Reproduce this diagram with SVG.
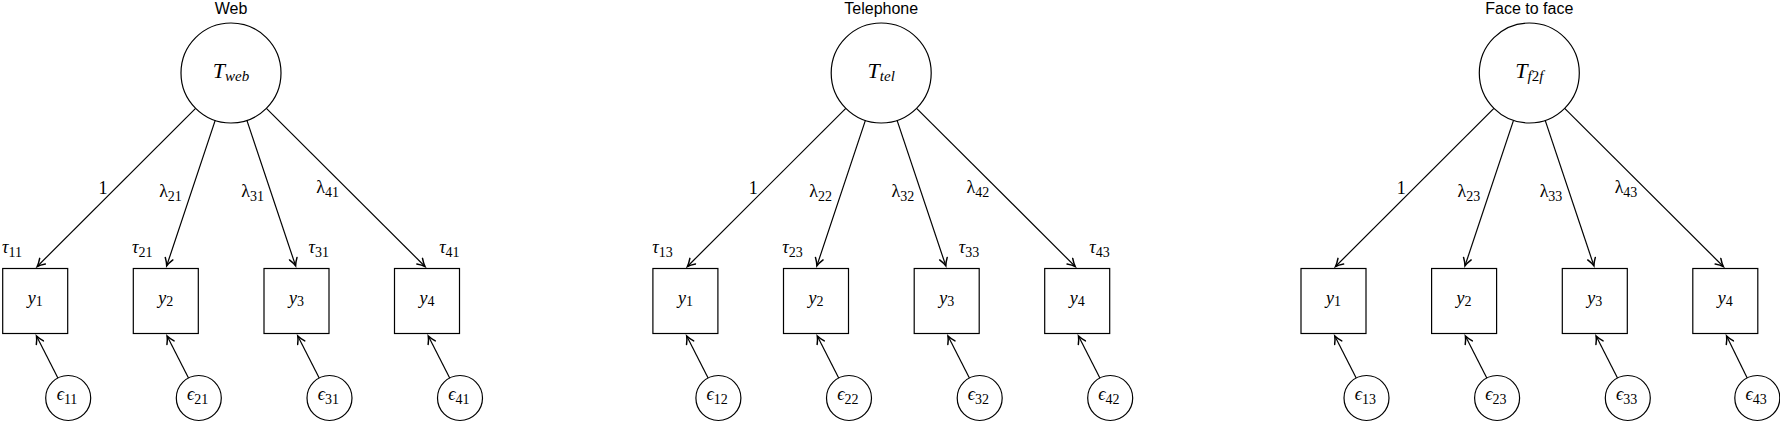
<svg xmlns="http://www.w3.org/2000/svg" width="1780" height="422" viewBox="0 0 1780 422">
<style>
.title{font-family:"Liberation Sans","DejaVu Sans",sans-serif;font-size:16px;text-anchor:middle;fill:#000}
.m{font-family:"Liberation Serif","DejaVu Serif",serif;font-style:italic;font-size:18px;fill:#000}
.c{text-anchor:middle}
.e{text-anchor:end}
.big{font-size:22px}
.n{font-style:normal;font-size:14px}
.ni{font-style:italic;font-size:15px}
.up{font-style:normal}
.node{fill:#fff;stroke:#000;stroke-width:1.2}
.conn line{stroke:#000;stroke-width:1.2;marker-end:url(#arr)}
</style>
<defs>
<marker id="arr" viewBox="-9 -5 11 10" refX="0" refY="0" markerWidth="11" markerHeight="10" orient="auto" markerUnits="userSpaceOnUse">
<path d="M-7.5,-4 Q-3,-1 0,0 Q-3,1 -7.5,4" fill="none" stroke="#000" stroke-width="1.5" stroke-linecap="round"/>
</marker>
</defs>
<rect width="1780" height="422" fill="#fff"/>

<!-- Panel 1: Web -->
<g id="panel-web">
<text class="title" x="231" y="14">Web</text>
<g id="T-web"><circle class="node" cx="231" cy="73" r="50"/><text class="m c big" x="231" y="77.5">T<tspan class="ni" dy="3">web</tspan></text></g>
<g id="y1-web"><rect class="node" x="2.7" y="268.5" width="65" height="65"/><text class="m c" x="35.2" y="304">y<tspan class="n" dy="1.5">1</tspan></text><text class="m" x="2" y="253">τ<tspan class="n" dy="3.5">11</tspan></text></g>
<g id="y2-web"><rect class="node" x="133.3" y="268.5" width="65" height="65"/><text class="m c" x="165.8" y="304">y<tspan class="n" dy="1.5">2</tspan></text><text class="m" x="132" y="253">τ<tspan class="n" dy="3.5">21</tspan></text></g>
<g id="y3-web"><rect class="node" x="264" y="268.5" width="65" height="65"/><text class="m c" x="296.5" y="304">y<tspan class="n" dy="1.5">3</tspan></text><text class="m e" x="329" y="253">τ<tspan class="n" dy="3.5">31</tspan></text></g>
<g id="y4-web"><rect class="node" x="394.5" y="268.5" width="65" height="65"/><text class="m c" x="427" y="304">y<tspan class="n" dy="1.5">4</tspan></text><text class="m e" x="459.6" y="253">τ<tspan class="n" dy="3.5">41</tspan></text></g>
<g id="e11"><circle class="node" cx="68.2" cy="398" r="22.5"/><text class="m c" x="67" y="400">ϵ<tspan class="n" dy="3.5">11</tspan></text></g>
<g id="e21"><circle class="node" cx="198.8" cy="398" r="22.5"/><text class="m c" x="197.6" y="400">ϵ<tspan class="n" dy="3.5">21</tspan></text></g>
<g id="e31"><circle class="node" cx="329.5" cy="398" r="22.5"/><text class="m c" x="328.3" y="400">ϵ<tspan class="n" dy="3.5">31</tspan></text></g>
<g id="e41"><circle class="node" cx="460" cy="398" r="22.5"/><text class="m c" x="458.8" y="400">ϵ<tspan class="n" dy="3.5">41</tspan></text></g>
<g id="connectors-web" class="conn">
<line x1="195.6" y1="108.3" x2="37.2" y2="266.5"/>
<line x1="215.2" y1="120.4" x2="166.7" y2="265.8"/>
<line x1="246.9" y1="120.4" x2="295.6" y2="265.8"/>
<line x1="266.4" y1="108.3" x2="425" y2="266.5"/>
<line x1="57.9" y1="378" x2="36.5" y2="336"/>
<line x1="188.5" y1="378" x2="167.1" y2="336"/>
<line x1="319.2" y1="378" x2="297.8" y2="336"/>
<line x1="449.7" y1="378" x2="428.3" y2="336"/>
<text class="m c up" x="103" y="193.5">1</text>
<text class="m c up" x="170.5" y="197">λ<tspan class="n" dy="4">21</tspan></text>
<text class="m c up" x="252.7" y="197">λ<tspan class="n" dy="4">31</tspan></text>
<text class="m c up" x="327.7" y="192.5">λ<tspan class="n" dy="4">41</tspan></text>
</g>
</g>

<!-- Panel 2: Telephone -->
<g id="panel-tel" transform="translate(650.2,0)">
<text class="title" x="231" y="14">Telephone</text>
<g id="T-tel"><circle class="node" cx="231" cy="73" r="50"/><text class="m c big" x="231" y="77.5">T<tspan class="ni" dy="3">tel</tspan></text></g>
<g id="y1-tel"><rect class="node" x="2.7" y="268.5" width="65" height="65"/><text class="m c" x="35.2" y="304">y<tspan class="n" dy="1.5">1</tspan></text><text class="m" x="2" y="253">τ<tspan class="n" dy="3.5">13</tspan></text></g>
<g id="y2-tel"><rect class="node" x="133.3" y="268.5" width="65" height="65"/><text class="m c" x="165.8" y="304">y<tspan class="n" dy="1.5">2</tspan></text><text class="m" x="132" y="253">τ<tspan class="n" dy="3.5">23</tspan></text></g>
<g id="y3-tel"><rect class="node" x="264" y="268.5" width="65" height="65"/><text class="m c" x="296.5" y="304">y<tspan class="n" dy="1.5">3</tspan></text><text class="m e" x="329" y="253">τ<tspan class="n" dy="3.5">33</tspan></text></g>
<g id="y4-tel"><rect class="node" x="394.5" y="268.5" width="65" height="65"/><text class="m c" x="427" y="304">y<tspan class="n" dy="1.5">4</tspan></text><text class="m e" x="459.6" y="253">τ<tspan class="n" dy="3.5">43</tspan></text></g>
<g id="e12"><circle class="node" cx="68.2" cy="398" r="22.5"/><text class="m c" x="67" y="400">ϵ<tspan class="n" dy="3.5">12</tspan></text></g>
<g id="e22"><circle class="node" cx="198.8" cy="398" r="22.5"/><text class="m c" x="197.6" y="400">ϵ<tspan class="n" dy="3.5">22</tspan></text></g>
<g id="e32"><circle class="node" cx="329.5" cy="398" r="22.5"/><text class="m c" x="328.3" y="400">ϵ<tspan class="n" dy="3.5">32</tspan></text></g>
<g id="e42"><circle class="node" cx="460" cy="398" r="22.5"/><text class="m c" x="458.8" y="400">ϵ<tspan class="n" dy="3.5">42</tspan></text></g>
<g id="connectors-tel" class="conn">
<line x1="195.6" y1="108.3" x2="37.2" y2="266.5"/>
<line x1="215.2" y1="120.4" x2="166.7" y2="265.8"/>
<line x1="246.9" y1="120.4" x2="295.6" y2="265.8"/>
<line x1="266.4" y1="108.3" x2="425" y2="266.5"/>
<line x1="57.9" y1="378" x2="36.5" y2="336"/>
<line x1="188.5" y1="378" x2="167.1" y2="336"/>
<line x1="319.2" y1="378" x2="297.8" y2="336"/>
<line x1="449.7" y1="378" x2="428.3" y2="336"/>
<text class="m c up" x="103" y="193.5">1</text>
<text class="m c up" x="170.5" y="197">λ<tspan class="n" dy="4">22</tspan></text>
<text class="m c up" x="252.7" y="197">λ<tspan class="n" dy="4">32</tspan></text>
<text class="m c up" x="327.7" y="192.5">λ<tspan class="n" dy="4">42</tspan></text>
</g>
</g>

<!-- Panel 3: Face to face -->
<g id="panel-f2f" transform="translate(1298.3,0)">
<text class="title" x="231" y="14">Face to face</text>
<g id="T-f2f"><circle class="node" cx="231" cy="73" r="50"/><text class="m c big" x="231" y="77.5">T<tspan class="ni" dy="3">f</tspan><tspan class="ni up">2</tspan><tspan class="ni">f</tspan></text></g>
<g id="y1-f2f"><rect class="node" x="2.7" y="268.5" width="65" height="65"/><text class="m c" x="35.2" y="304">y<tspan class="n" dy="1.5">1</tspan></text></g>
<g id="y2-f2f"><rect class="node" x="133.3" y="268.5" width="65" height="65"/><text class="m c" x="165.8" y="304">y<tspan class="n" dy="1.5">2</tspan></text></g>
<g id="y3-f2f"><rect class="node" x="264" y="268.5" width="65" height="65"/><text class="m c" x="296.5" y="304">y<tspan class="n" dy="1.5">3</tspan></text></g>
<g id="y4-f2f"><rect class="node" x="394.5" y="268.5" width="65" height="65"/><text class="m c" x="427" y="304">y<tspan class="n" dy="1.5">4</tspan></text></g>
<g id="e13"><circle class="node" cx="68.2" cy="398" r="22.5"/><text class="m c" x="67" y="400">ϵ<tspan class="n" dy="3.5">13</tspan></text></g>
<g id="e23"><circle class="node" cx="198.8" cy="398" r="22.5"/><text class="m c" x="197.6" y="400">ϵ<tspan class="n" dy="3.5">23</tspan></text></g>
<g id="e33"><circle class="node" cx="329.5" cy="398" r="22.5"/><text class="m c" x="328.3" y="400">ϵ<tspan class="n" dy="3.5">33</tspan></text></g>
<g id="e43"><circle class="node" cx="459" cy="398" r="22.5"/><text class="m c" x="457.8" y="400">ϵ<tspan class="n" dy="3.5">43</tspan></text></g>
<g id="connectors-f2f" class="conn">
<line x1="195.6" y1="108.3" x2="37.2" y2="266.5"/>
<line x1="215.2" y1="120.4" x2="166.7" y2="265.8"/>
<line x1="246.9" y1="120.4" x2="295.6" y2="265.8"/>
<line x1="266.4" y1="108.3" x2="425" y2="266.5"/>
<line x1="57.9" y1="378" x2="36.5" y2="336"/>
<line x1="188.5" y1="378" x2="167.1" y2="336"/>
<line x1="319.2" y1="378" x2="297.8" y2="336"/>
<line x1="448.9" y1="378" x2="428.3" y2="336"/>
<text class="m c up" x="103" y="193.5">1</text>
<text class="m c up" x="170.5" y="197">λ<tspan class="n" dy="4">23</tspan></text>
<text class="m c up" x="252.7" y="197">λ<tspan class="n" dy="4">33</tspan></text>
<text class="m c up" x="327.7" y="192.5">λ<tspan class="n" dy="4">43</tspan></text>
</g>
</g>
</svg>
